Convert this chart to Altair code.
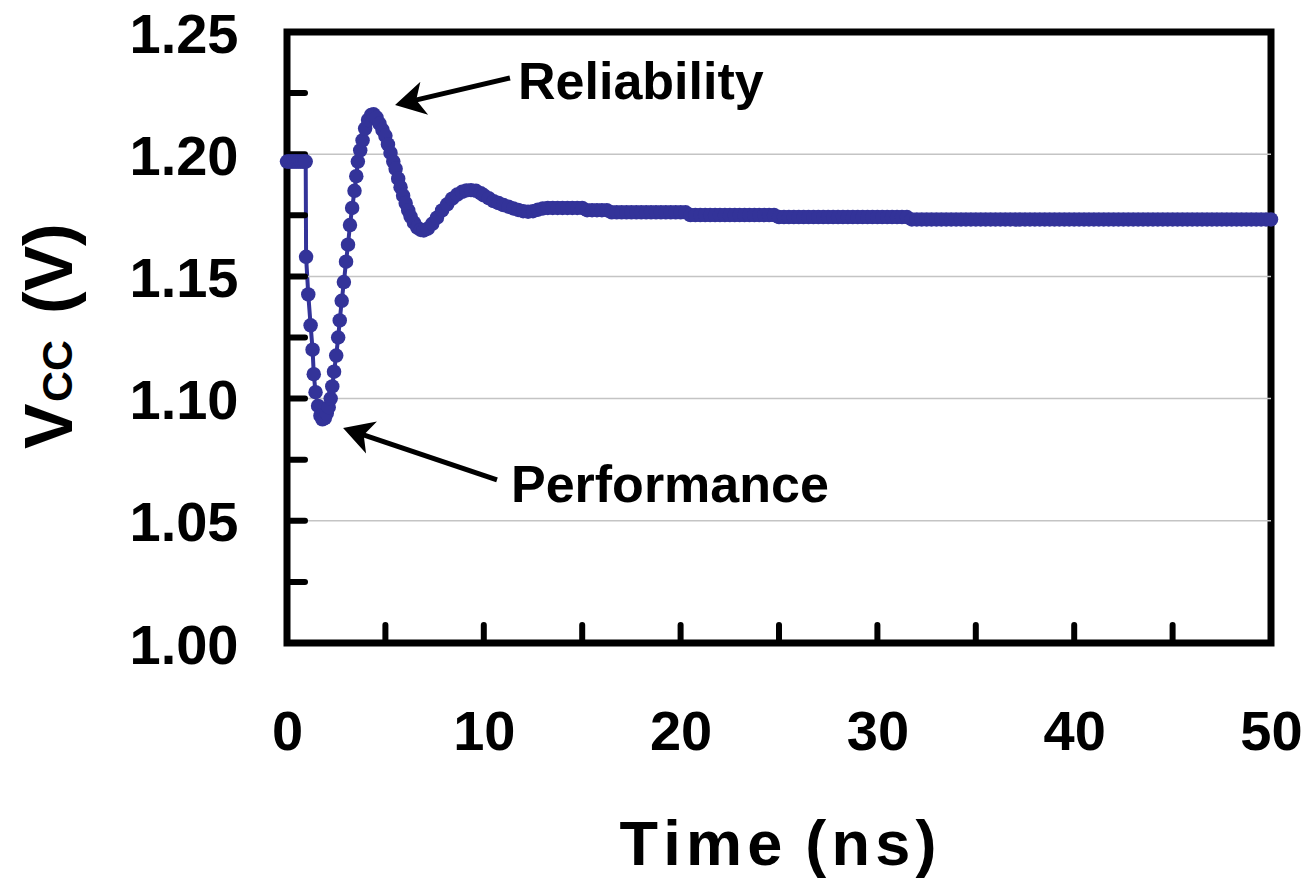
import altair as alt
import pandas as pd

# Supply voltage response after a load step
time_ns = [
    0.0, 0.1, 0.2, 0.3, 0.4, 0.5, 0.6, 0.7, 0.8, 0.9, 0.95,
    0.97, 1.08, 1.20, 1.30, 1.36, 1.45, 1.58, 1.70, 1.80, 1.92,
    2.02, 2.12, 2.22, 2.30, 2.39, 2.50, 2.60, 2.68, 2.78, 2.89,
    3.00, 3.10, 3.20, 3.31, 3.43, 3.52, 3.60, 3.72, 3.84, 3.97,
    4.12, 4.27, 4.40, 4.55, 4.70, 4.85, 5.00, 5.13, 5.26, 5.40,
    5.52, 5.65, 5.77, 5.90, 6.03, 6.16, 6.28, 6.45, 6.62, 6.80,
    6.95, 7.15, 7.38, 7.62, 7.88, 8.14, 8.39, 8.65, 8.90, 9.12,
    9.35, 9.60, 9.85,
    10.0, 10.25, 10.5, 10.75, 11.0, 11.25, 11.5, 11.75,
    12.0, 12.25, 12.5, 12.75, 13.0, 13.25, 13.5, 13.75,
    14.0, 14.25, 14.5, 14.75, 15.0, 15.25, 15.5, 15.75,
    16.0, 16.25, 16.5, 16.75, 17.0, 17.25, 17.5, 17.75,
    18.0, 18.25, 18.5, 18.75, 19.0, 19.25, 19.5, 19.75,
    20.0, 20.25, 20.5, 20.75, 21.0, 21.25, 21.5, 21.75,
    22.0, 22.25, 22.5, 22.75, 23.0, 23.25, 23.5, 23.75,
    24.0, 24.25, 24.5, 24.75, 25.0, 25.25, 25.5, 25.75,
    26.0, 26.25, 26.5, 26.75, 27.0, 27.25, 27.5, 27.75,
    28.0, 28.25, 28.5, 28.75, 29.0, 29.25, 29.5, 29.75,
    30.0, 30.25, 30.5, 30.75, 31.0, 31.25, 31.5, 31.75,
    32.0, 32.25, 32.5, 32.75, 33.0, 33.25, 33.5, 33.75,
    34.0, 34.25, 34.5, 34.75, 35.0, 35.25, 35.5, 35.75,
    36.0, 36.25, 36.5, 36.75, 37.0, 37.25, 37.5, 37.75,
    38.0, 38.25, 38.5, 38.75, 39.0, 39.25, 39.5, 39.75,
    40.0, 40.25, 40.5, 40.75, 41.0, 41.25, 41.5, 41.75,
    42.0, 42.25, 42.5, 42.75, 43.0, 43.25, 43.5, 43.75,
    44.0, 44.25, 44.5, 44.75, 45.0, 45.25, 45.5, 45.75,
    46.0, 46.25, 46.5, 46.75, 47.0, 47.25, 47.5, 47.75,
    48.0, 48.25, 48.5, 48.75, 49.0, 49.25, 49.5, 49.75,
    50.0,
]
vcc_v = [
    1.197, 1.197, 1.197, 1.197, 1.197, 1.197, 1.197, 1.197, 1.197, 1.197, 1.197,
    1.158, 1.1426, 1.130, 1.120, 1.110, 1.1026, 1.097, 1.093, 1.0915, 1.092,
    1.094, 1.0965, 1.100, 1.105, 1.111, 1.1176, 1.125, 1.132, 1.140, 1.1477,
    1.156, 1.163, 1.171, 1.178, 1.185, 1.191, 1.197, 1.2016, 1.2057, 1.2105,
    1.214, 1.216, 1.2163, 1.215, 1.2125, 1.210, 1.2075, 1.204, 1.2005, 1.197,
    1.194, 1.190, 1.1865, 1.183, 1.180, 1.177, 1.1745, 1.172, 1.170, 1.169,
    1.1688, 1.1695, 1.1715, 1.174, 1.177, 1.1795, 1.1818, 1.1835, 1.1846, 1.1852,
    1.1853, 1.185, 1.184,
    1.1832, 1.1820, 1.1808, 1.1800, 1.1792, 1.1785, 1.1778, 1.1772,
    1.1767, 1.1765, 1.1767, 1.1773, 1.1778, 1.1780, 1.1780, 1.1780,
    1.1780, 1.1780, 1.1780, 1.1780, 1.1780, 1.1771, 1.1771, 1.1771,
    1.1771, 1.1771, 1.1762, 1.1762, 1.1762, 1.1762, 1.1762, 1.1762,
    1.1762, 1.1762, 1.1762, 1.1762, 1.1762, 1.1762, 1.1762, 1.1762,
    1.1762, 1.1762, 1.1751, 1.1751, 1.1751, 1.1751, 1.1751, 1.1751,
    1.1751, 1.1751, 1.1751, 1.1751, 1.1751, 1.1751, 1.1751, 1.1751,
    1.1751, 1.1751, 1.1751, 1.1751, 1.1743, 1.1743, 1.1743, 1.1743,
    1.1743, 1.1743, 1.1743, 1.1743, 1.1743, 1.1743, 1.1743, 1.1743,
    1.1743, 1.1743, 1.1743, 1.1743, 1.1743, 1.1743, 1.1743, 1.1743,
    1.1743, 1.1743, 1.1743, 1.1743, 1.1743, 1.1743, 1.1743, 1.1733,
    1.1733, 1.1733, 1.1733, 1.1733, 1.1733, 1.1733, 1.1733, 1.1733,
    1.1733, 1.1733, 1.1733, 1.1733, 1.1733, 1.1733, 1.1733, 1.1733,
    1.1733, 1.1733, 1.1733, 1.1733, 1.1733, 1.1733, 1.1733, 1.1733,
    1.1733, 1.1733, 1.1733, 1.1733, 1.1733, 1.1733, 1.1733, 1.1733,
    1.1733, 1.1733, 1.1733, 1.1733, 1.1733, 1.1733, 1.1733, 1.1733,
    1.1733, 1.1733, 1.1733, 1.1733, 1.1733, 1.1733, 1.1733, 1.1733,
    1.1733, 1.1733, 1.1733, 1.1733, 1.1733, 1.1733, 1.1733, 1.1733,
    1.1733, 1.1733, 1.1733, 1.1733, 1.1733, 1.1733, 1.1733, 1.1733,
    1.1733, 1.1733, 1.1733, 1.1733, 1.1733, 1.1733, 1.1733, 1.1733,
    1.1733,
]

# Axis ticks, labels and gridlines
y_tick_values = [1.000, 1.025, 1.050, 1.075, 1.100, 1.125, 1.150, 1.175, 1.200, 1.225, 1.250]
y_label_values = [1.00, 1.05, 1.10, 1.15, 1.20, 1.25]
y_grid_values = [1.05, 1.10, 1.15, 1.20]
x_tick_values = [0, 5, 10, 15, 20, 25, 30, 35, 40, 45, 50]
x_label_values = [0, 10, 20, 30, 40, 50]

# Callouts: label anchor, arrow tail, arrow neck and arrow tip (data units)
note_text = ["Reliability", "Performance"]
note_time = [11.74, 11.38]
note_vcc = [1.2226, 1.0577]
tail_time = [11.33, 10.67]
tail_vcc = [1.2312, 1.0667]
neck_time = [6.48, 3.81]
neck_vcc = [1.2220, 1.0854]
tip_time = [5.49, 2.85]
tip_vcc = [1.2201, 1.0880]
head_angle = [256.8, 288.7]

BLUE = "#333399"
FONT = "Liberation Sans"
W, H = 984, 611

series = pd.DataFrame({"t": time_ns, "v": vcc_v})
notes = pd.DataFrame({
    "label": note_text, "t": note_time, "v": note_vcc,
    "t0": tail_time, "v0": tail_vcc, "t1": neck_time, "v1": neck_vcc,
    "tt": tip_time, "vt": tip_vcc, "ang": head_angle,
})

xs = alt.Scale(domain=[0, 50], nice=False, zero=False)
ys = alt.Scale(domain=[1.0, 1.25], nice=False, zero=False)

label_style = dict(
    labelFont=FONT, labelFontWeight="bold", labelFontSize=56, labelColor="black",
    ticks=False, domain=False, grid=False, labelOverlap=False, labelBound=False,
    labelFlush=False,
)
x_axis = alt.Axis(values=x_label_values, format="d", title=None, labelPadding=62, **label_style)
y_axis = alt.Axis(values=y_label_values, format=".2f", title=None, labelPadding=49,
                  labelBaseline="middle", labelOffset=3, **label_style)

# The first layer carries both axes; the others share its scales
line = alt.Chart(series).mark_line(color=BLUE, strokeWidth=4).encode(
    x=alt.X("t:Q", scale=xs, axis=x_axis),
    y=alt.Y("v:Q", scale=ys, axis=y_axis),
)
dots = alt.Chart(series).mark_circle(color=BLUE, size=210, opacity=1).encode(
    x=alt.X("t:Q"), y=alt.Y("v:Q"),
)

grid = alt.Chart(pd.DataFrame({"v": y_grid_values})).mark_rule(
    color="#c4c4c4", strokeWidth=1.5
).encode(y=alt.Y("v:Q"))

y_ticks = alt.Chart(pd.DataFrame({"v": y_tick_values})).mark_rule(
    color="black", strokeWidth=6, strokeCap="round"
).encode(y=alt.Y("v:Q"), x=alt.value(0), x2=alt.value(18))

x_ticks = alt.Chart(pd.DataFrame({"t": x_tick_values})).mark_rule(
    color="black", strokeWidth=6, strokeCap="round"
).encode(x=alt.X("t:Q"), y=alt.value(H), y2=alt.value(H - 18))

shafts = alt.Chart(notes).mark_rule(color="black", strokeWidth=5).encode(
    x=alt.X("t0:Q"), y=alt.Y("v0:Q"), x2="t1:Q", y2="v1:Q",
)
heads = alt.Chart(notes).mark_point(
    shape="M0,0 L1.13,2 L0,1.45 L-1.13,2 Z", filled=True, color="black",
    opacity=1, size=900, strokeWidth=0,
).encode(
    x=alt.X("tt:Q"), y=alt.Y("vt:Q"),
    angle=alt.Angle("ang:Q", scale=None),
)
note_labels = alt.Chart(notes).mark_text(
    font=FONT, fontWeight="bold", fontSize=52, color="black",
    align="left", baseline="alphabetic",
).encode(x=alt.X("t:Q"), y=alt.Y("v:Q"), text="label:N")

one = pd.DataFrame({"k": [0]})


def free_text(txt, x, y, size, angle=0, align="left"):
    return alt.Chart(one).mark_text(
        text=txt, font=FONT, fontWeight="bold", fontSize=size, color="black",
        align=align, baseline="alphabetic", angle=angle,
    ).encode(x=alt.value(x), y=alt.value(y))


x_title = free_text("T\u200ai\u200am\u200ae\u200a (\u200an\u200as\u200a)", W / 2 - 1, 833, 63, align="center")
y_title_v = free_text("V", -215, 417, 68, angle=270)
y_title_cc = free_text("CC", -215, 370, 43, angle=270)
y_title_unit = free_text("(V)", -215, 282, 68, angle=270)

chart = alt.layer(
    line, grid, y_ticks, x_ticks, dots, shafts, heads, note_labels,
    x_title, y_title_v, y_title_cc, y_title_unit,
).properties(
    width=W, height=H, autosize="none",
    padding={"left": 287, "top": 32, "right": 32, "bottom": 237},
).configure_view(stroke="black", strokeWidth=7)

chart.save("out.html", embed_options={"renderer": "svg", "actions": False})
